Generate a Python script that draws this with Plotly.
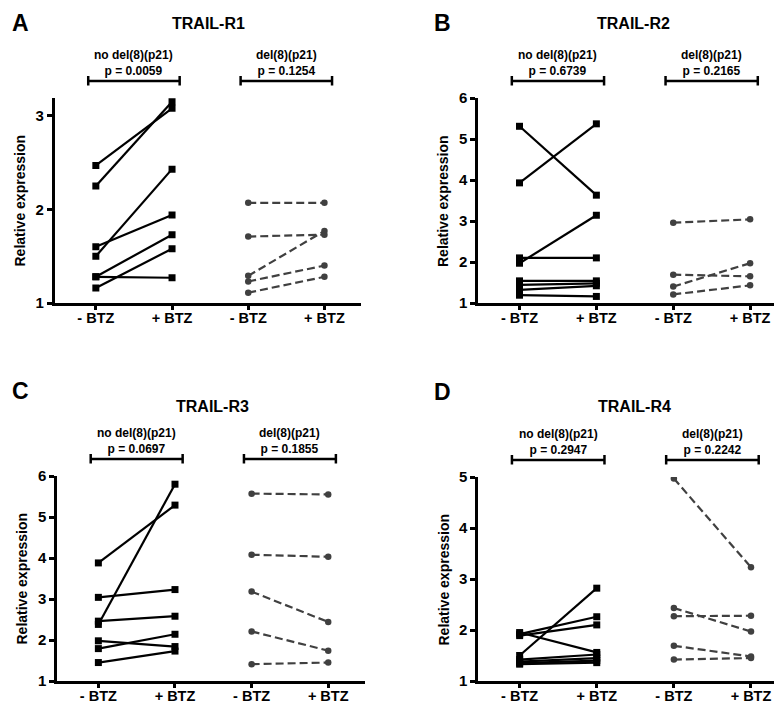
import plotly.graph_objects as go

# x categories and group names
conditions = ["- BTZ", "+ BTZ", "- BTZ", "+ BTZ"]
groups = ["no del(8)(p21)", "del(8)(p21)"]

# TRAIL-R1
r1_nodel_minus = [2.47, 2.25, 1.50, 1.60, 1.28, 1.28, 1.16]
r1_nodel_plus = [3.08, 3.15, 2.43, 1.94, 1.73, 1.27, 1.58]
r1_del_minus = [2.07, 1.71, 1.29, 1.23, 1.11]
r1_del_plus = [2.07, 1.73, 1.77, 1.40, 1.28]
r1_p = ["0.0059", "0.1254"]

# TRAIL-R2
r2_nodel_minus = [5.31, 3.93, 1.97, 2.10, 1.54, 1.44, 1.32, 1.19]
r2_nodel_plus = [3.63, 5.37, 3.14, 2.10, 1.54, 1.48, 1.42, 1.16]
r2_del_minus = [2.96, 1.69, 1.40, 1.21]
r2_del_plus = [3.04, 1.65, 1.97, 1.43]
r2_p = ["0.6739", "0.2165"]

# TRAIL-R3
r3_nodel_minus = [3.88, 3.04, 2.46, 2.38, 1.98, 1.79, 1.45]
r3_nodel_plus = [5.29, 3.23, 2.58, 5.80, 1.84, 2.14, 1.73]
r3_del_minus = [5.57, 4.08, 3.18, 2.21, 1.41]
r3_del_plus = [5.55, 4.03, 2.44, 1.74, 1.45]
r3_p = ["0.0697", "0.1855"]

# TRAIL-R4
r4_nodel_minus = [1.95, 1.92, 1.89, 1.50, 1.42, 1.38, 1.35, 1.33]
r4_nodel_plus = [1.56, 2.26, 2.10, 2.82, 1.52, 1.45, 1.40, 1.36]
r4_del_minus = [4.97, 2.43, 2.27, 1.69, 1.42]
r4_del_plus = [3.23, 1.97, 2.28, 1.48, 1.45]
r4_p = ["0.2947", "0.2242"]

# the figure ends up 8px below the top of the page, so it is 8px shorter
TOP_OFF = 8
W, H = 782, 704 - TOP_OFF
FONT = "Liberation Sans, Arial, sans-serif"


def px_x(v):
    return v / W


def px_y(v):
    return 1 - (v - TOP_OFF) / H


panels = [
    dict(letter="A", title="TRAIL-R1", data=(r1_nodel_minus, r1_nodel_plus, r1_del_minus, r1_del_plus),
         p=r1_p, yrange=[1, 3.19], ticks=[1, 2, 3], left=46.7, right=353, top=98, bottom=303,
         letter_x=2, letter_y=8, title_y=24, ytitle_x=12),
    dict(letter="B", title="TRAIL-R2", data=(r2_nodel_minus, r2_nodel_plus, r2_del_minus, r2_del_plus),
         p=r2_p, yrange=[1, 6], ticks=[1, 2, 3, 4, 5, 6], left=470, right=779, top=98, bottom=303,
         letter_x=424, letter_y=8, title_y=24, ytitle_x=435.5),
    dict(letter="C", title="TRAIL-R3", data=(r3_nodel_minus, r3_nodel_plus, r3_del_minus, r3_del_plus),
         p=r3_p, yrange=[1, 6], ticks=[1, 2, 3, 4, 5, 6], left=49, right=357, top=476, bottom=681,
         letter_x=2, letter_y=376, title_y=406, ytitle_x=13),
    dict(letter="D", title="TRAIL-R4", data=(r4_nodel_minus, r4_nodel_plus, r4_del_minus, r4_del_plus),
         p=r4_p, yrange=[1, 5], ticks=[1, 2, 3, 4, 5], left=470, right=780, top=477, bottom=681,
         letter_x=424, letter_y=377, title_y=406, ytitle_x=435.5),
]

fig = go.Figure()
annotations = []
shapes = []

for i, pn in enumerate(panels):
    n = "" if i == 0 else str(i + 1)
    xa, ya = "x" + n, "y" + n
    nm, npl, dm, dp = pn["data"]

    # no deletion group: solid black, squares
    for a, b in zip(nm, npl):
        fig.add_trace(go.Scatter(x=[1, 2], y=[a, b], xaxis=xa, yaxis=ya, mode="lines+markers",
                                 line=dict(color="black", width=2.2),
                                 marker=dict(symbol="square", size=7, color="black"),
                                 showlegend=False))
    # deletion group: dashed grey, circles
    for a, b in zip(dm, dp):
        fig.add_trace(go.Scatter(x=[3, 4], y=[a, b], xaxis=xa, yaxis=ya, mode="lines+markers",
                                 line=dict(color="#404040", width=2.2, dash="8px,4px"),
                                 marker=dict(symbol="circle", size=6.5, color="#404040"),
                                 showlegend=False))

    fig.update_layout({
        ("xaxis" + n): dict(domain=[px_x(pn["left"]), px_x(pn["right"])], anchor=ya,
                            range=[0.46, 4.48], tickvals=[1, 2, 3, 4], ticktext=conditions,
                            showline=True, linewidth=2.5, linecolor="black", ticks="outside",
                            ticklen=4, tickwidth=2.5, tickcolor="black", showgrid=False,
                            ticklabelstandoff=-4,
                            zeroline=False, fixedrange=True, automargin=False,
                            tickfont=dict(family=FONT, size=14.5, color="black", weight="bold")),
        ("yaxis" + n): dict(domain=[px_y(pn["bottom"]), px_y(pn["top"])], anchor=xa,
                            range=pn["yrange"], tickvals=pn["ticks"],
                            showline=True, linewidth=2.5, linecolor="black", ticks="outside",
                            ticklen=5, tickwidth=2.5, tickcolor="black", showgrid=False,
                            zeroline=False, fixedrange=True, automargin=False,
                            tickfont=dict(family=FONT, size=15, color="black", weight="bold")),
    })

    cx = (pn["left"] + pn["right"]) / 2
    # panel letter (top-anchored so its box stays inside the figure)
    annotations.append(dict(text=pn["letter"], x=px_x(pn["letter_x"]), y=px_y(pn["letter_y"]),
                            xref="paper", yref="paper", xanchor="left", yanchor="top", showarrow=False,
                            font=dict(family=FONT, size=23, color="black", weight="bold")))
    # panel title
    annotations.append(dict(text=pn["title"], x=px_x(cx + 1), y=px_y(pn["title_y"]),
                            xref="paper", yref="paper", xanchor="center", yanchor="middle",
                            showarrow=False,
                            font=dict(family=FONT, size=16, color="black", weight="bold")))
    # y title
    annotations.append(dict(text="Relative expression", x=px_x(pn["ytitle_x"]),
                            y=px_y((pn["top"] + pn["bottom"]) / 2), xref="paper", yref="paper",
                            textangle=-90, xanchor="center", yanchor="middle", showarrow=False,
                            font=dict(family=FONT, size=14, color="black", weight="bold")))
    # group labels + brackets
    gy = pn["top"] - 17
    for g, (x0, x1) in enumerate([(1, 2), (3, 4)]):
        annotations.append(dict(text=groups[g] + "<br>p = " + pn["p"][g], x=(x0 + x1) / 2,
                                y=px_y(gy - 1), xref=xa, yref="paper", xanchor="center",
                                yanchor="bottom", showarrow=False,
                                font=dict(family=FONT, size=12, color="black", weight="bold")))
        shapes.append(dict(type="line", xref=xa, yref="paper", x0=x0 - 0.1, x1=x1 + 0.1,
                           y0=px_y(gy), y1=px_y(gy), line=dict(color="black", width=2.5)))
        for xe in (x0 - 0.1, x1 + 0.1):
            shapes.append(dict(type="line", xref=xa, yref="paper", x0=xe, x1=xe,
                               y0=px_y(gy - 5), y1=px_y(gy + 4.5), line=dict(color="black", width=2.5)))

fig.update_layout(template="none", width=W, height=H, margin=dict(l=0, r=0, t=0, b=0),
                  plot_bgcolor="white", paper_bgcolor="white",
                  annotations=annotations, shapes=shapes,
                  font=dict(family=FONT, color="black"))

fig.write_html("out.html")
